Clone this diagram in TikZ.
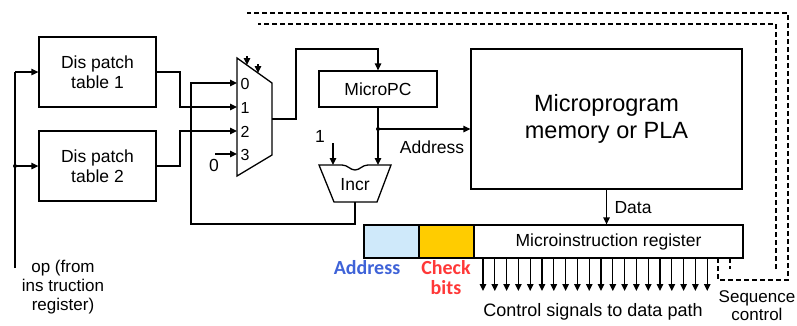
\documentclass[tikz,border=0pt]{standalone}
\usepackage{fontspec}
\setmainfont{Liberation Sans}
\newfontfamily\calib{Carlito}
\usetikzlibrary{arrows.meta}
\definecolor{addrblue}{HTML}{3F63D8}
\definecolor{checkred}{HTML}{FF3838}
\definecolor{lightblue}{HTML}{CFE9FA}
\definecolor{gold}{HTML}{FFCC00}
\begin{document}
\begin{tikzpicture}[x=1pt,y=-1pt,line width=1.3pt,
  arr/.style={-{Triangle[length=7pt,width=6.5pt]}},
  blk/.style={draw,inner sep=0pt,font=\fontsize{17.5}{20}\selectfont,align=center},
  lbl/.style={inner sep=0pt,font=\fontsize{17.5}{20}\selectfont},
  small/.style={inner sep=0pt,font=\fontsize{16}{18}\selectfont},
  dsh/.style={dash pattern=on 5pt off 3pt},
  dot/.style={circle,fill,inner sep=0pt,minimum size=4pt}]
\useasboundingbox (0,0) rectangle (797,325);
% boxes
\node[blk,minimum width=117pt,minimum height=70pt] (t1) at (97.5,72) {Dis patch\\table 1};
\node[blk,minimum width=117pt,minimum height=70pt] (t2) at (97.5,166) {Dis patch\\table 2};
\node[blk,minimum width=118pt,minimum height=36pt] (mpc) at (378,89) {MicroPC};
\node[blk,minimum width=271pt,minimum height=140pt,font=\fontsize{23.5}{27}\selectfont] (mem) at (606.5,119) {Microprogram\\memory or PLA};
\node[draw,fill=lightblue,inner sep=0pt,minimum width=55pt,minimum height=33pt] (raddr) at (391.5,241.5) {};
\node[draw,fill=gold,inner sep=0pt,minimum width=55pt,minimum height=33pt] (rchk) at (446.5,241.5) {};
\node[blk,minimum width=269pt,minimum height=33pt,font=\fontsize{17.5}{20}\selectfont] (rmain) at (608.5,241.5) {Microinstruction register};
% mux
\coordinate (m1) at (237,58); \coordinate (m2) at (272,83);
\coordinate (m3) at (272,155); \coordinate (m4) at (237,176);
\draw (m1) -- (m2) -- (m3) -- (m4) -- cycle;
\coordinate (in0) at (237,83); \coordinate (in1) at (237,107);
\coordinate (in2) at (237,131); \coordinate (in3) at (237,154);
\coordinate (mout) at (272,119);
\foreach \i/\y in {0/84,1/108,2/132,3/155} \node[small,anchor=west] at (240,\y) {\i};
% incr
\coordinate (iTL) at (319,165); \coordinate (iTR) at (391,165);
\coordinate (iBR) at (377,202); \coordinate (iBL) at (334,202);
\draw (iTL) -- (342,165) .. controls (348,165) and (350,170) .. (355,170) .. controls (360,170) and (362,165) .. (368,165) -- (iTR) -- (iBR) -- (iBL) -- cycle;
\node[lbl] (incr) at (355,185) {Incr};
\coordinate (iin1) at (333,165); \coordinate (iin2) at (378,165);
\coordinate (iout) at (355,202);
% op input
\coordinate (opb) at (15,268); \coordinate (opt) at (15,72);
\coordinate (opj) at (15,166);
\draw (opb) -- (opt);
\draw[arr] (opt) -- (t1.west);
\draw[arr] (opj) -- (t2.west);
\node[dot] at (opj) {};
\node[lbl,align=center,font=\fontsize{17}{19}\selectfont] (oplbl) at (63,287) {op (from\\ins truction\\register)};
% tables to mux
\draw[arr] (t1.east) -- (180,72) -- (180,107) -- (in1);
\draw[arr] (t2.east) -- (180,166) -- (180,131) -- (in2);
\node[lbl] (zero) at (214,165) {0};
\coordinate (z3) at (215,154);
\draw[arr] (z3) -- (in3);
% mux out to microPC
\draw[arr] (mout) -- (296,119) -- (296,49) -- (378,49) -- (mpc.north);
% microPC out
\coordinate (j) at (378,129);
\draw (mpc.south) -- (j);
\draw[arr] (j) -- (mem.west |- j);
\draw[arr] (j) -- (iin2);
\node[dot] at (j) {};
\node[lbl] (addr) at (432,147) {Address};
\node[lbl] (one) at (320,136) {1};
\coordinate (onea) at (333,143);
\draw[arr] (onea) -- (iin1);
% feedback
\draw[arr] (iout) -- (355,224) -- (191,224) -- (191,83) -- (in0);
% data
\draw[arr] (mem.south) -- (mem.south |- rmain.north);
\node[lbl] (data) at (633,208) {Data};
% register labels
\node[inner sep=0pt,font=\calib\bfseries\fontsize{20}{22}\selectfont,text=addrblue] (alab) at (367,268) {Address};
\node[inner sep=0pt,font=\calib\bfseries\fontsize{20}{20}\selectfont,text=checkred,align=center] (clab) at (446,278) {Check\\bits};
% control arrows
\foreach \k in {0,...,19} {
  \coordinate (cs\k) at (483+\k*11.8,258);
  \draw[arr] (cs\k) -- ++(0,33);
}
\node[lbl,font=\fontsize{18}{20}\selectfont] (ctl) at (593,312) {Control signals to data path};
% sequence control
\coordinate (s1) at (718,258); \coordinate (s2) at (730,258);
\draw[dsh] (s1) -- (718,280) -- (788,280) -- (788,13) -- (247,13);
\draw[dsh] (s2) -- (730,269);
\draw[dsh] (776,269) -- (776,24) -- (258,24);
\node[lbl,align=center,font=\fontsize{17}{18}\selectfont] (seq) at (757,306) {Sequence\\control};
% mux select arrows
\draw[arr] (247,56) -- (247,65);
\draw[arr] (258,64) -- (258,73);
\end{tikzpicture}
\end{document}
